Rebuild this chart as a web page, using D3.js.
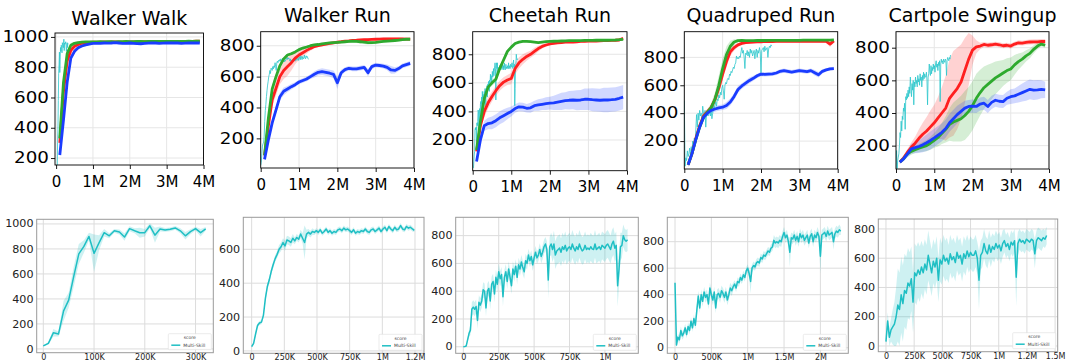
<!DOCTYPE html>
<html><head><meta charset="utf-8">
<script src="https://cdn.jsdelivr.net/npm/d3@7"></script>
<style>body{margin:0;background:#fff;} svg{display:block;font-family:"DejaVu Sans",sans-serif;}</style>
</head><body><svg id="c" width="1067" height="364"></svg>
<script>
// ---------------- DATA ----------------
const TASKS = ["Walker Walk","Walker Run","Cheetah Run","Quadruped Run","Cartpole Swingup"];
const TOP_X = [0.1,0.2,0.3,0.4,0.5,0.6,0.7,0.8,0.9,1.0,1.1,1.2,1.3,1.4,1.5,1.6,1.7,1.8,1.9,2.0,2.1,2.2,2.3,2.4,2.5,2.6,2.7,2.8,2.9,3.0,3.1,3.2,3.3,3.4,3.5,3.6,3.7,3.8,3.9]; // million steps
const TOP_XTICKS = [0,1,2,3,4];
const TOP_XLABELS = ["0","1M","2M","3M","4M"];

// Walker Walk
const wwRed = [300,640,840,912,938,950,958,962,964,965,966,966,967,966,967,968,967,966,967,968,968,967,968,969,968,968,969,970,969,970,970,969,970,971,970,971,971,972,972];
const wwRedSd = [20,40,45,35,28,22,16,10,8,6,5,5,5,5,5,5,5,5,5,5,5,5,5,5,5,5,5,5,5,5,5,5,5,5,5,5,5,5,5];
const wwGreen = [330,700,890,945,958,963,966,967,968,968,968,969,968,969,969,968,969,969,970,969,969,970,970,969,970,970,970,971,970,970,971,971,970,971,971,972,971,972,972];
const wwGreenSd = [15,30,25,15,10,6,4,4,4,4,4,4,4,4,4,4,4,4,4,4,4,4,4,4,4,4,4,4,4,4,4,4,4,4,4,4,4,4,4];
const wwBlue = [220,450,700,860,905,928,940,948,953,957,958,958,960,959,960,962,960,958,957,960,958,956,955,957,959,960,960,958,959,960,961,960,960,958,959,960,960,961,960];
const wwBlueSd = [10,30,30,20,12,10,8,6,6,5,5,5,5,5,5,5,5,5,5,5,5,5,5,5,5,5,5,5,5,5,5,5,5,5,5,5,5,5,5];
// Walker Run
const wrRed = [90,280,450,525,600,640,665,690,720,740,755,770,783,795,800,805,810,815,819,823,826,830,832,835,836,838,839,840,841,842,843,844,845,845,845,845,844,843,843];
const wrRedSd = [10,30,40,45,50,55,60,50,40,30,25,20,15,12,10,10,10,10,10,8,8,8,8,8,8,8,8,8,8,8,8,8,8,8,8,8,8,8,8];
const wrGreen = [90,330,520,600,670,715,740,748,760,775,785,792,800,805,808,812,815,818,820,822,824,826,828,830,828,826,823,820,820,822,825,828,830,832,834,836,839,842,842];
const wrGreenSd = [10,30,25,20,15,12,10,10,8,8,8,8,8,8,8,8,8,8,8,8,8,8,8,8,10,12,12,12,10,8,8,8,8,8,8,8,8,8,8];
const wrBlue = [64,190,300,385,470,505,520,535,548,565,575,585,600,615,628,632,628,622,615,560,625,645,654,650,650,655,660,625,665,675,672,668,660,643,640,652,670,678,686];
const wrBlueSd = [10,20,25,25,25,25,20,18,15,15,15,15,15,20,20,22,22,22,25,40,20,15,15,15,15,15,15,25,15,15,15,15,18,25,20,15,15,15,15];
// Cheetah Run
const crRed = [120,300,400,460,505,545,580,605,620,630,700,740,765,785,800,820,840,855,865,872,876,880,882,885,885,885,887,890,891,893,893,893,894,895,896,897,898,900,912];
const crRedSd = [10,30,40,40,35,35,35,35,35,40,40,40,35,30,25,25,20,15,12,10,8,8,8,8,8,8,8,8,8,8,8,8,8,8,8,8,8,8,8];
const crGreen = [130,330,490,570,600,625,700,760,820,850,875,885,890,890,888,885,882,885,888,890,891,892,893,894,895,895,896,896,897,897,897,898,898,898,898,899,900,902,905];
const crGreenSd = [10,25,25,20,20,20,20,15,12,10,8,6,6,6,6,6,6,6,6,6,6,6,6,6,6,6,6,6,6,6,6,6,6,6,6,6,6,6,6];
const crBlue = [50,200,300,315,320,335,355,370,385,400,420,432,430,422,425,440,445,450,455,458,460,465,470,475,478,480,478,480,485,485,482,480,478,480,480,482,485,492,500];
const crBlueSd = [10,30,35,40,45,45,45,45,40,35,30,30,30,30,35,35,40,40,45,45,50,55,60,60,65,65,70,70,75,75,80,80,80,85,85,85,85,85,85];
// Quadruped Run
const qrRed = [30,110,220,310,380,410,440,500,580,680,770,840,870,890,900,905,908,910,912,912,913,913,913,914,914,914,914,915,915,915,915,915,915,915,915,915,915,895,918];
const qrRedSd = [15,20,25,25,20,20,25,30,40,40,40,30,20,15,12,10,8,8,8,8,8,8,8,8,8,8,8,8,8,8,8,8,8,8,8,10,12,20,12];
const qrGreen = [30,110,210,300,370,405,440,500,600,720,820,880,910,920,922,920,920,920,921,921,921,922,922,922,922,922,922,922,922,922,923,923,923,923,923,924,924,924,925];
const qrGreenSd = [15,20,25,25,20,20,30,50,70,70,60,40,20,10,8,6,6,6,6,6,6,6,6,6,6,6,6,6,6,6,6,6,6,6,6,6,6,6,6];
const qrBlue = [30,110,210,300,370,400,420,430,438,443,455,480,520,570,595,615,635,650,668,680,678,680,682,688,700,705,700,695,700,705,702,698,705,690,675,700,710,718,720];
const qrBlueSd = [15,20,25,25,20,20,20,20,20,20,25,25,25,25,20,20,20,18,15,15,15,15,15,15,15,15,15,15,15,15,15,15,15,20,20,15,12,12,12];
// Cartpole Swingup
const csRed = [100,125,160,190,215,245,270,290,315,340,370,400,430,490,520,550,590,660,730,785,805,810,820,815,818,822,818,812,815,810,822,830,828,832,835,836,836,838,838];
const csRedSd = [10,15,20,30,40,55,70,85,100,110,130,160,200,240,260,250,230,200,160,90,40,20,15,15,15,15,15,15,15,15,15,15,15,15,15,15,15,15,15];
const csGreen = [100,120,150,165,175,185,192,200,215,232,250,275,300,330,345,355,365,385,410,445,490,525,555,575,595,615,630,645,660,670,695,715,730,750,765,790,810,822,815];
const csGreenSd = [10,15,20,20,20,25,30,35,40,45,55,65,80,100,120,130,140,150,150,150,150,140,130,120,110,100,90,80,75,70,60,50,40,35,30,25,20,15,15];
const csBlue = [98,120,150,180,188,195,205,218,232,248,265,282,305,340,365,390,410,430,440,442,440,455,460,440,465,478,472,470,490,500,505,515,525,535,545,540,542,545,542];
const csBlueSd = [10,15,20,30,35,40,45,50,55,55,55,55,55,55,55,55,50,45,40,40,40,40,40,40,40,40,40,40,40,45,45,50,55,60,60,60,60,55,50];

// Multi-Skill runs (bottom row; also overlaid thin in top row). Steps in thousands.
const msWalkerWalkStep = 10;
const msWalkerWalk = [25,45,130,120,305,390,580,760,820,900,765,850,930,905,945,935,895,962,945,930,930,985,910,960,952,957,968,945,905,938,962,930,960];
const msWalkerWalkSd = [5,10,30,20,80,60,80,80,50,30,150,60,30,20,15,20,30,20,20,40,30,20,60,20,15,15,15,20,30,20,15,30,15];
const msWalkerRunStep = 15;
const msWalkerRun = [25,45,100,150,165,170,210,310,380,420, 470,510,545,570,600,615,640,620,655,650, 640,665,650,670,660,690,665,640,690,700, 690,705,700,710,700,715,695,705,720,700, 710,695,705,700,715,720,710,725,715,720, 710,700,715,695,705,700,710,705,720,705, 700,715,720,705,715,725,705,720,730,710, 735,720,710,730,715,720,740,720,715,735, 725,730,720,712];
const msWalkerRunSd = [5,8,10,12,12,12,15,20,20,20, 20,20,20,20,25,25,25,30,25,25, 25,25,20,20,20,25,30,100,25,20, 20,20,15,15,15,15,15,15,15,15, 15,15,15,15,15,15,15,15,15,15, 15,15,15,15,15,15,15,15,15,15, 15,15,15,15,15,15,15,15,15,15, 15,15,15,15,15,15,15,15,15,15, 15,15,15,10];
const msCheetahStep = 10;
const msCheetah = [0,2,5,50,95,120,270,285,270,290, 190,320,300,330,410,400,280,400,420,330, 450,470,380,500,450,540,490,520,360,500, 540,470,560,500,440,560,520,580,500,590, 560,610,570,540,620,600,660,620,650,590, 640,680,640,660,700,650,680,720,740,700, 480,720,740,700,740,660,690,700,710,680, 720,700,730,690,710,720,700,740,710,690, 720,700,740,710,690,700,730,700,710,700, 720,705,700,740,700,710,720,700,730,720, 710,730,740,720,700,740,760,710,730,440, 560,720,730,800,770,760,770];
const msCheetahSd = [2,3,5,15,25,35,50,50,50,50, 60,50,50,50,55,55,60,55,55,60, 55,55,60,55,55,60,55,55,70,55, 55,55,55,55,60,55,50,50,50,50, 50,50,50,50,50,45,45,45,45,45, 45,45,45,45,45,50,50,50,50,60, 130,70,80,90,95,100,100,100,100,100, 100,100,100,100,100,100,100,100,100,100, 100,100,100,100,100,100,100,100,100,100, 100,100,100,100,100,100,100,100,100,100, 100,100,100,100,100,100,100,100,100,150, 120,100,90,80,80,80,80];
const msQuadrupedStep = 20;
const msQuadruped = [490,20,80,60,130,90,110,150,100,160, 130,200,150,220,170,280,390,300,400,350, 420,380,400,330,450,400,360,420,300,400, 410,380,430,410,380,420,360,400,450,430, 460,480,450,500,490,530,510,550,530,580, 600,560,500,600,620,610,640,650,640,680, 670,700,690,710,730,720,750,760,810,790, 800,790,810,800,840,870,830,850,800,720, 830,820,850,810,840,800,860,830,850,810, 830,850,790,840,860,800,850,830,870,840, 690,850,860,870,840,880,850,860,870,800, 860,880,870,890,880];
const msQuadrupedSd = [10,20,25,30,30,30,30,30,30,30, 30,30,30,30,30,40,40,40,40,40, 40,40,40,40,40,40,40,40,40,40, 40,40,40,40,40,40,40,40,40,40, 30,30,30,30,30,30,30,30,30,30, 30,30,90,30,30,30,30,30,30,30, 30,30,30,30,30,30,30,30,40,40, 40,40,40,40,40,40,40,40,40,110, 40,40,40,40,40,40,40,40,40,40, 40,40,40,40,40,40,40,40,40,40, 130,40,40,40,40,40,40,40,40,60, 40,40,40,40,30];
const msCartpoleStep = 15;
const msCartpole = [30,170,60,110,130,150,200,280,250,350, 290,380,360,430,410,460,300,500,480,520, 490,540,500,560,520,620,560,500,580,540, 600,450,590,560,620,580,600,560,630,590, 610,570,640,600,620,560,630,600,650,610, 640,620,620,650,600,450,620,640,700,650, 630,690,640,680,660,700,670,690,650,700, 720,680,700,660,710,690,720,470,700,730, 710,720,700,730,720,710,730,720,630,720, 740,730,720,740,730,755];
const msCartpoleSd = [30,60,60,80,120,150,200,250,250,260, 260,250,250,240,230,220,210,200,200,190, 190,180,180,170,170,170,160,160,150,150, 150,150,150,140,140,140,140,130,130,130, 130,130,120,120,120,120,120,120,110,110, 110,110,110,110,110,200,100,100,100,100, 100,100,100,90,90,90,90,90,90,90, 80,80,80,80,80,80,80,200,80,70, 70,70,70,70,70,70,70,70,100,70, 70,70,70,60,60,60];

// ---------------- LAYOUT / STYLE ----------------
const C_RED = "#ff1f1f", C_GREEN = "#2eaa2e", C_BLUE = "#1a3cff", C_CYAN = "#1fbfc4";
const svg = d3.select("#c");

const topPanels = [
  {l:55, r:203.5, t:33, b:165, xd:[-0.03,4], yd:[154,1026], yt:[200,400,600,800,1000], tb:25,
   series:[[wwRed,wwRedSd,C_RED],[wwGreen,wwGreenSd,C_GREEN],[wwBlue,wwBlueSd,C_BLUE]], ms:[msWalkerWalk,msWalkerWalkStep]},
  {l:260.7, r:414, t:31.7, b:168, xd:[0,4], yd:[8,891], yt:[200,400,600,800], tb:21.7,
   series:[[wrRed,wrRedSd,C_RED],[wrGreen,wrGreenSd,C_GREEN],[wrBlue,wrBlueSd,C_BLUE]], ms:[msWalkerRun,msWalkerRunStep]},
  {l:472.7, r:627, t:31.7, b:170.7, xd:[0,4], yd:[-15,958], yt:[200,400,600,800], tb:21.7,
   series:[[crRed,crRedSd,C_RED],[crGreen,crGreenSd,C_GREEN],[crBlue,crBlueSd,C_BLUE]], ms:[msCheetah,msCheetahStep]},
  {l:684.3, r:837.7, t:31.7, b:169, xd:[0,4], yd:[0,984], yt:[200,400,600,800], tb:21.7,
   series:[[qrRed,qrRedSd,C_RED],[qrGreen,qrGreenSd,C_GREEN],[qrBlue,qrBlueSd,C_BLUE]], ms:[msQuadruped,msQuadrupedStep]},
  {l:896, r:1049, t:31.7, b:169, xd:[0,4], yd:[57,898], yt:[200,400,600,800], tb:21.7,
   series:[[csRed,csRedSd,C_RED],[csGreen,csGreenSd,C_GREEN],[csBlue,csBlueSd,C_BLUE]], ms:[msCartpole,msCartpoleStep]}
];

const botPanels = [
  {l:36.7, r:213.3, t:219.3, b:352.7, xd:[-13,335], yd:[-30,1037], yt:[0,200,400,600,800,1000],
   xt:[0,100,200,300], xl:["0","100K","200K","300K"], ms:[msWalkerWalk,msWalkerWalkSd,msWalkerWalkStep]},
  {l:243.3, r:424, t:217.3, b:353.3, xd:[-64,1319], yd:[-14,789], yt:[0,200,400,600],
   xt:[0,250,500,750,1000,1250], xl:["0","250K","500K","750K","1M","1.2M"], ms:[msWalkerRun,msWalkerRunSd,msWalkerRunStep]},
  {l:455.7, r:638.3, t:217.3, b:353.3, xd:[-54,1236], yd:[-47,932], yt:[0,200,400,600,800],
   xt:[0,250,500,750,1000], xl:["0","250K","500K","750K","1M"], ms:[msCheetah,msCheetahSd,msCheetahStep]},
  {l:667.3, r:848.3, t:217.3, b:353.3, xd:[-106,2384], yd:[-42,984], yt:[0,200,400,600,800],
   xt:[0,500,1000,1500,2000], xl:["0","500K","1M","1.5M","2M"], ms:[msQuadruped,msQuadrupedSd,msQuadrupedStep]},
  {l:878.3, r:1057.7, t:219, b:351.7, xd:[-68,1523], yd:[-39,868], yt:[0,200,400,600,800],
   xt:[0,250,500,750,1000,1250,1500], xl:["0","250K","500K","750K","1M","1.2M","1.5M"], ms:[msCartpole,msCartpoleSd,msCartpoleStep]}
];

// stretch y tick labels horizontally (labels in the picture are wide)
function stretchY(a, off, sx) {
  a.selectAll(".tick text").attr("x", -off / sx).attr("transform", `scale(${sx},1)`);
}

// ---------------- TOP ROW ----------------
topPanels.forEach((p, k) => {
  const g = svg.append("g");
  const x = d3.scaleLinear().domain(p.xd).range([p.l, p.r]);
  const y = d3.scaleLinear().domain(p.yd).range([p.b, p.t]);
  const cid = "clipT" + k;
  svg.append("clipPath").attr("id", cid).append("rect")
    .attr("x", p.l).attr("y", p.t).attr("width", p.r - p.l).attr("height", p.b - p.t);

  g.append("g").selectAll("line").data(TOP_XTICKS).join("line")
    .attr("x1", d => x(d)).attr("x2", d => x(d)).attr("y1", p.t).attr("y2", p.b)
    .attr("stroke", "#e6e6e6").attr("stroke-width", 1);
  g.append("g").selectAll("line").data(p.yt).join("line")
    .attr("y1", d => y(d)).attr("y2", d => y(d)).attr("x1", p.l).attr("x2", p.r)
    .attr("stroke", "#e6e6e6").attr("stroke-width", 1);

  const pg = g.append("g").attr("clip-path", `url(#${cid})`);
  const pts = (vals, sds) => TOP_X.map((xv, i) => ({x: xv, v: vals[i], s: sds[i]}));
  const area = d3.area().x(d => x(d.x)).y0(d => y(d.v - d.s)).y1(d => y(d.v + d.s)).curve(d3.curveLinear);
  const line = d3.line().x(d => x(d.x)).y(d => y(d.v));

  p.series.forEach(([vals, sds, col]) => {
    pg.append("path").datum(pts(vals, sds)).attr("d", area).attr("fill", col).attr("fill-opacity", 0.2);
  });
  const msData = p.ms[0].map((v, i) => ({x: i * p.ms[1] / 1000, v: v}));
  pg.append("path").datum(msData).attr("d", line).attr("fill", "none")
    .attr("stroke", "#2cc6cc").attr("stroke-width", 0.8);
  p.series.forEach(([vals, sds, col]) => {
    pg.append("path").datum(pts(vals, sds)).attr("d", line).attr("fill", "none")
      .attr("stroke", col).attr("stroke-width", 2.8).attr("stroke-linejoin", "round");
  });

  g.append("rect").attr("x", p.l).attr("y", p.t).attr("width", p.r - p.l).attr("height", p.b - p.t)
    .attr("fill", "none").attr("stroke", "#000").attr("stroke-width", 0.9);

  const xa = g.append("g").attr("transform", `translate(0,${p.b})`)
    .call(d3.axisBottom(x).tickValues(TOP_XTICKS).tickFormat((d, i) => TOP_XLABELS[i]).tickSize(4).tickPadding(7));
  const ya = g.append("g").attr("transform", `translate(${p.l},0)`)
    .call(d3.axisLeft(y).tickValues(p.yt).tickFormat(d3.format("d")).tickSize(4).tickPadding(2));
  [xa, ya].forEach(a => {
    a.select(".domain").remove();
    a.selectAll(".tick line").attr("stroke", "#000").attr("stroke-width", 0.9);
    a.selectAll("text").attr("font-size", 15).attr("fill", "#000").attr("font-family", "DejaVu Sans");
  });
  stretchY(ya, 6, 1.22);

  g.append("text").attr("x", (p.l + p.r) / 2).attr("y", p.tb).attr("text-anchor", "middle")
    .attr("font-size", 19).attr("fill", "#000").text(TASKS[k]);
});

// ---------------- BOTTOM ROW ----------------
botPanels.forEach((p, k) => {
  const g = svg.append("g");
  const x = d3.scaleLinear().domain(p.xd).range([p.l, p.r]);
  const y = d3.scaleLinear().domain(p.yd).range([p.b, p.t]);
  const cid = "clipB" + k;
  svg.append("clipPath").attr("id", cid).append("rect")
    .attr("x", p.l).attr("y", p.t).attr("width", p.r - p.l).attr("height", p.b - p.t);

  g.append("g").selectAll("line").data(p.xt).join("line")
    .attr("x1", d => x(d)).attr("x2", d => x(d)).attr("y1", p.t).attr("y2", p.b)
    .attr("stroke", "#dcdcdc").attr("stroke-width", 1);
  g.append("g").selectAll("line").data(p.yt).join("line")
    .attr("y1", d => y(d)).attr("y2", d => y(d)).attr("x1", p.l).attr("x2", p.r)
    .attr("stroke", "#dcdcdc").attr("stroke-width", 1);

  const [vals, sds, step] = p.ms;
  const data = vals.map((v, i) => ({x: i * step, v: v, s: sds[i]}));
  const pg = g.append("g").attr("clip-path", `url(#${cid})`);
  pg.append("path").datum(data)
    .attr("d", d3.area().x(d => x(d.x)).y0(d => y(d.v - d.s)).y1(d => y(d.v + d.s)))
    .attr("fill", C_CYAN).attr("fill-opacity", 0.22);
  pg.append("path").datum(data)
    .attr("d", d3.line().x(d => x(d.x)).y(d => y(d.v)))
    .attr("fill", "none").attr("stroke", C_CYAN).attr("stroke-width", 1.5).attr("stroke-linejoin", "round");

  g.append("rect").attr("x", p.l).attr("y", p.t).attr("width", p.r - p.l).attr("height", p.b - p.t)
    .attr("fill", "none").attr("stroke", "#9a9a9a").attr("stroke-width", 1);

  const xa = g.append("g").attr("transform", `translate(0,${p.b})`)
    .call(d3.axisBottom(x).tickValues(p.xt).tickFormat((d, i) => p.xl[i]).tickSize(0).tickPadding(1.5));
  const ya = g.append("g").attr("transform", `translate(${p.l},0)`)
    .call(d3.axisLeft(y).tickValues(p.yt).tickFormat(d3.format("d")).tickSize(0).tickPadding(3));
  [xa, ya].forEach(a => {
    a.select(".domain").remove();
    a.selectAll("text").attr("fill", "#222").attr("font-family", "DejaVu Sans");
  });
  xa.selectAll("text").attr("font-size", 8);
  ya.selectAll("text").attr("font-size", 9.6);
  stretchY(ya, 3.2, 1.16);

  // legend
  const lw = 43, lh = 16;
  const lx = p.r - lw - 2, ly = p.b - lh - 3;
  const lg = g.append("g");
  lg.append("rect").attr("x", lx).attr("y", ly).attr("width", lw).attr("height", lh).attr("rx", 1)
    .attr("fill", "#fff").attr("fill-opacity", 0.9).attr("stroke", "#dddddd").attr("stroke-width", 0.6);
  lg.append("text").attr("x", lx + lw / 2).attr("y", ly + 5.5).attr("text-anchor", "middle")
    .attr("font-size", 4.5).attr("fill", "#444").text("score");
  lg.append("line").attr("x1", lx + 3).attr("x2", lx + 12).attr("y1", ly + 11.5).attr("y2", ly + 11.5)
    .attr("stroke", C_CYAN).attr("stroke-width", 1.5);
  lg.append("text").attr("x", lx + 15).attr("y", ly + 13).attr("font-size", 4.5).attr("fill", "#444").text("Multi-Skill");
});
</script></body></html>
